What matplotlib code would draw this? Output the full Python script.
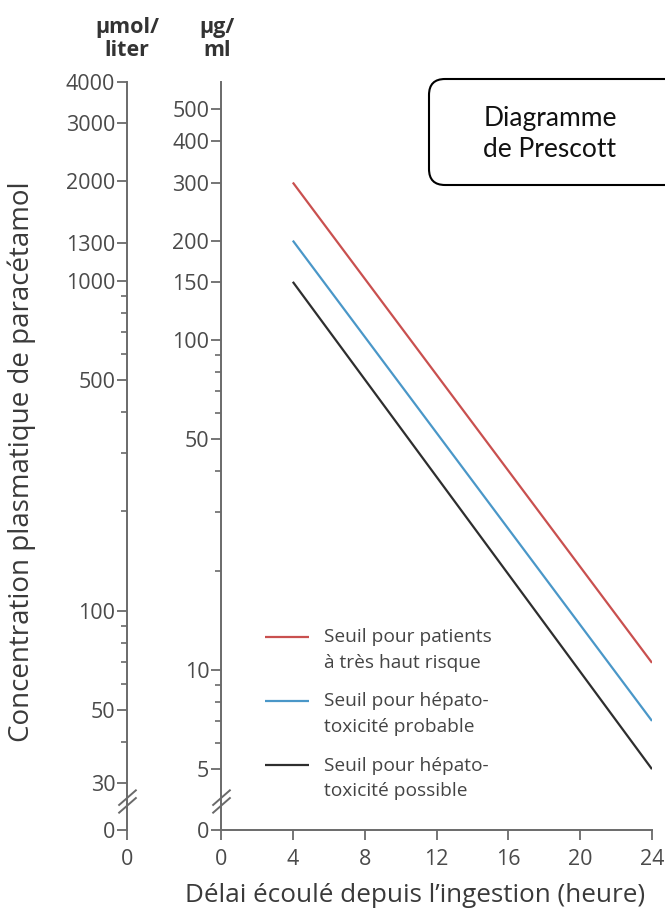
import matplotlib
matplotlib.use("Agg")
import matplotlib.pyplot as plt
from matplotlib.path import Path
from matplotlib.lines import Line2D
from matplotlib.patches import FancyBboxPatch
from matplotlib.ticker import FixedLocator, NullFormatter
from matplotlib.legend_handler import HandlerLine2D

plt.rcParams['font.family'] = ['Open Sans', 'DejaVu Sans']

# ---------------- data ----------------
hours = [4, 24]
seuil_tres_haut_risque = [300, 10.5]
seuil_probable = [200, 7.0]
seuil_possible = [150, 5.0]
series_labels = ["Seuil pour patients\nà très haut risque",
                 "Seuil pour hépato-\ntoxicité probable",
                 "Seuil pour hépato-\ntoxicité possible"]
series_colors = ["#c9504f", "#4a97c8", "#2e2e2e"]
x_ticks = [0, 4, 8, 12, 16, 20, 24]
ugml_ticks = [5, 10, 50, 100, 150, 200, 300, 400, 500]
ugml_minor = [6, 7, 8, 9, 20, 30, 40, 60, 70, 80, 90]
umol_ticks = [30, 50, 100, 500, 1000, 1300, 2000, 3000, 4000]
umol_minor = [40, 60, 70, 80, 90, 200, 300, 400, 600, 700, 800, 900]
UMOL_PER_UGML = 6.62
y_zero = 3.27     # where the broken axis shows "0"
y_top = 605
y_break = 4.0

W, H = 665, 914
fig = plt.figure(figsize=(W / 100, H / 100), dpi=100)

axis_col = "#6a6a6a"
lab_col = "#4a4a4a"
tick_fs = 15.5

def style_axis(a):
    for s in ("top", "right"):
        a.spines[s].set_visible(False)
    for s in ("left", "bottom"):
        a.spines[s].set_color(axis_col)
        a.spines[s].set_linewidth(1.4)
    a.tick_params(which="major", direction="out", length=7, width=1.3,
                  color=axis_col, labelcolor=lab_col, labelsize=tick_fs, pad=1.5)
    a.tick_params(which="minor", direction="out", length=4.5, width=1.2,
                  color=axis_col)

# main axes (µg/ml)
ax = fig.add_axes([221 / W, (H - 830) / H, 431 / W, 748 / H])
ax.set_yscale("log")
ax.set_ylim(y_zero, y_top)
ax.set_xlim(0, 24)
style_axis(ax)
ax.set_yticks(ugml_ticks + [y_zero])
ax.set_yticklabels([str(v) for v in ugml_ticks] + ["0"])
ax.yaxis.set_minor_locator(FixedLocator(ugml_minor))
ax.yaxis.set_minor_formatter(NullFormatter())
ax.set_xticks(x_ticks)
ax.set_xticklabels([str(v) for v in x_ticks])
ax.tick_params(axis="x", pad=7)

for vals, lab, col in zip([seuil_tres_haut_risque, seuil_probable, seuil_possible],
                          series_labels, series_colors):
    ax.plot(hours, vals, color=col, lw=1.6, label=lab, solid_capstyle="butt")


class FirstLineHandler(HandlerLine2D):
    """Legend handle aligned with the first line of a two-line label."""
    def create_artists(self, legend, orig_handle, xdescent, ydescent, width,
                       height, fontsize, trans):
        arts = super().create_artists(legend, orig_handle, xdescent, ydescent,
                                      width, height, fontsize, trans)
        for a in arts:
            if isinstance(a, Line2D):
                a.set_ydata([y + 0.7 * fontsize for y in a.get_ydata()])
        return arts


leg = ax.legend(loc="upper left", bbox_to_anchor=(0.085, 0.28), frameon=False,
                fontsize=13.8, handlelength=2.3, handletextpad=0.75,
                labelspacing=1.07, borderaxespad=0,
                handler_map={Line2D: FirstLineHandler()})
for t in leg.get_texts():
    t.set_color("#444444")
    t.set_linespacing(1.55)

# left axes (µmol/liter)
axl = fig.add_axes([127 / W, (H - 830) / H, 0.0001, 748 / H])
axl.set_yscale("log")
axl.set_ylim(y_zero * UMOL_PER_UGML, y_top * UMOL_PER_UGML)
axl.set_xlim(0, 1)
style_axis(axl)
axl.spines["bottom"].set_visible(False)
axl.spines["left"].set_bounds(y_zero * UMOL_PER_UGML, 4000)
axl.set_yticks(umol_ticks + [y_zero * UMOL_PER_UGML])
axl.set_yticklabels([str(v) for v in umol_ticks] + ["0"])
axl.yaxis.set_minor_locator(FixedLocator(umol_minor))
axl.yaxis.set_minor_formatter(NullFormatter())
axl.set_xticks([0])
axl.set_xticklabels(["0"])
axl.tick_params(axis="x", pad=7)
axl.patch.set_visible(False)

# axis-break marks
brk = Path([(-1, -1.3), (1, 0.45), (-1, -0.45), (1, 1.3)],
           [Path.MOVETO, Path.LINETO, Path.MOVETO, Path.LINETO])
ax.plot([0], [y_break], marker=brk, ms=17, mew=1.4, color=axis_col,
        clip_on=False, zorder=5)
axl.plot([0], [y_break * UMOL_PER_UGML], marker=brk, ms=17, mew=1.4,
         color=axis_col, clip_on=False, zorder=5)

# overlay for annotations (pixel coordinates)
ov = fig.add_axes([0, 0, 1, 1])
ov.set_xlim(0, W)
ov.set_ylim(H, 0)
ov.axis("off")
ov.patch.set_visible(False)

ov.text(127, 39, "µmol/\nliter", ha="center", va="center", fontsize=15.5,
        fontweight="bold", color="#333333", linespacing=1.1)
ov.text(217, 39, "µg/\nml", ha="center", va="center", fontsize=15.5,
        fontweight="bold", color="#333333", linespacing=1.1)

ov.text(22, 462, "Concentration plasmatique de paracétamol", rotation=90,
        ha="center", va="center", fontsize=20, color="#3a3a3a")
ov.text(415, 896, "Délai écoulé depuis l’ingestion (heure)", ha="center",
        va="center", fontsize=18.8, color="#3a3a3a")

box = FancyBboxPatch((429, 79), 260, 106,
                     boxstyle="round,pad=0,rounding_size=16",
                     fc="white", ec="black", lw=1.5, clip_on=False)
ov.add_patch(box)
ov.text(550, 134, "Diagramme\nde Prescott", ha="center", va="center",
        fontsize=19, color="#111111", linespacing=1.28, family=["Lato", "DejaVu Sans"])

fig.savefig("out.png", dpi=100)
